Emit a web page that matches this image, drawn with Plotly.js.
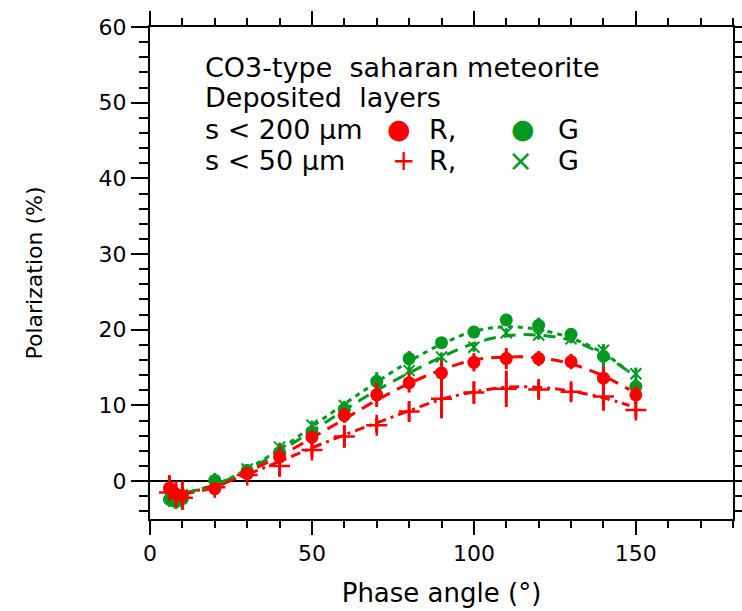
<!DOCTYPE html>
<html>
<head>
<meta charset="utf-8">
<script src="https://cdn.plot.ly/plotly-3.0.1.min.js"></script>
<style>html,body{margin:0;padding:0;background:#fff;}#chart{width:742px;height:611px;}</style>
</head>
<body>
<div id="chart"></div>
<script>
// Phase angles (deg)
const phase = [6, 8, 10, 20, 30, 40, 50, 60, 70, 80, 90, 100, 110, 120, 130, 140, 150];

// s < 200 um, R (red filled circles)
const r200 = [-0.9, -1.7, -1.9, -1.0, 1.0, 3.2, 5.8, 8.7, 11.4, 13.0, 14.3, 15.7, 16.2, 16.2, 15.8, 13.6, 11.4];
const r200Err = [1.7, 1.7, 1.9, 0.8, 0.7, 1.5, 0.9, 1.0, 1.6, 1.3, 1.6, 1.2, 1.4, 1.0, 1.0, 1.5, 1.2];

// s < 200 um, G (green filled circles)
const g200 = [-2.4, -2.7, -2.3, 0.1, 1.4, 3.8, 6.5, 9.5, 13.2, 16.2, 18.3, 19.7, 21.3, 20.6, 19.4, 16.5, 12.5];
const g200Err = [1.0, 1.0, 1.0, 1.0, 0.8, 0.8, 0.8, 0.8, 1.2, 1.0, 0.6, 0.5, 0.8, 1.0, 0.8, 1.5, 1.0];

// s < 50 um, R (red plus)
const r50 = [-1.5, -2.0, -2.2, -0.8, 0.8, 2.0, 4.1, 5.9, 7.4, 9.2, 10.9, 11.7, 12.2, 12.1, 11.8, 11.2, 9.4];
const r50Err = [1.5, 1.5, 1.5, 0.8, 0.6, 1.4, 1.0, 1.5, 1.0, 1.3, 2.6, 1.5, 2.4, 1.2, 1.2, 1.9, 1.0];

// s < 50 um, G (green cross)
const g50 = [-2.0, -2.5, -1.8, -0.3, 1.6, 4.5, 7.4, 10.0, 12.2, 14.6, 16.4, 17.7, 19.6, 19.3, 18.8, 17.3, 14.2];
const g50Err = [0.8, 0.8, 0.8, 0.6, 0.6, 0.6, 0.6, 0.6, 0.6, 0.6, 0.6, 0.6, 0.6, 0.6, 0.6, 0.8, 0.8];

// Fitted curves
const fitX = [10, 20, 30, 40, 50, 60, 70, 80, 90, 100, 110, 120, 130, 140, 148];
const fitR200 = [-1.7, -0.8, 1.2, 3.3, 5.7, 8.2, 10.7, 12.9, 14.7, 16.0, 16.4, 16.3, 15.5, 13.9, 12.1];
const fitG200 = [-1.6, -0.5, 1.6, 4.2, 7.2, 10.2, 13.1, 15.8, 18.1, 19.8, 20.4, 20.0, 18.9, 16.9, 14.4];
const fitG50  = [-1.6, -0.5, 1.4, 3.9, 6.6, 9.4, 12.0, 14.3, 16.4, 18.2, 19.2, 19.3, 18.6, 16.7, 14.4];
const fitR50  = [-1.7, -0.6, 0.9, 2.6, 4.4, 6.1, 7.7, 9.3, 10.8, 11.8, 12.4, 12.4, 11.9, 11.0, 10.0];

const RED = '#ff0000';
const GREEN = '#009a20';

function fitTrace(y, color, dash) {
  return {x: fitX, y: y, mode: 'lines', line: {color: color, width: 3, dash: dash, shape: 'spline'}, hoverinfo: 'skip', showlegend: false};
}
function ptTrace(y, err, color, symbol, size, lw) {
  return {
    x: phase, y: y, mode: 'markers', showlegend: false,
    marker: {color: color, symbol: symbol, size: size, line: {color: color, width: lw}},
    error_y: {type: 'data', array: err, visible: true, color: color, thickness: 3, width: 0}
  };
}

const traces = [
  fitTrace(fitR50, RED, '10px,5px,3px,5px'),
  fitTrace(fitG50, GREEN, '12px,8px'),
  fitTrace(fitR200, RED, '12px,8px'),
  fitTrace(fitG200, GREEN, '5px,5px'),
  ptTrace(g50, g50Err, GREEN, 'x-thin', 11, 2),
  ptTrace(r50, r50Err, RED, 'cross-thin', 15, 2.5),
  ptTrace(g200, g200Err, GREEN, 'circle', 13, 0),
  ptTrace(r200, r200Err, RED, 'circle', 13, 0)
];

const FONT = 'DejaVu Sans, Verdana, sans-serif';
function txt(x, y, s, color, size, anchor) {
  return {x: x, y: y, xref: 'x', yref: 'y', text: s, showarrow: false,
    xanchor: anchor || 'left', yanchor: 'middle', font: {family: FONT, size: size || 27, color: color || '#000'}};
}

const annotations = [
  txt(16.3, 54.7, 'CO3-type  saharan meteorite'),
  txt(16.3, 50.7, 'Deposited  layers'),
  txt(16.3, 46.5, 's < 200 μm'),
  txt(16.3, 42.3, 's < 50 μm'),
  txt(77.0, 46.6, '●', RED, 27, 'center'),
  txt(85.5, 46.5, 'R,'),
  txt(115.2, 46.6, '●', GREEN, 27, 'center'),
  txt(125.5, 46.5, 'G'),
  txt(78.2, 42.4, '+', RED, 28, 'center'),
  txt(85.5, 42.3, 'R,'),
  txt(114.5, 42.4, '×', GREEN, 30, 'center'),
  txt(125.5, 42.3, 'G')
];

const layout = {
  width: 742, height: 611,
  margin: {l: 150, r: 9, t: 27, b: 92, pad: 0},
  paper_bgcolor: '#fff', plot_bgcolor: '#fff',
  font: {family: FONT, size: 22, color: '#000'},
  showlegend: false,
  xaxis: {
    range: [0, 180], tickmode: 'linear', tick0: 0, dtick: 50,
    ticks: 'outside', ticklen: 14, tickwidth: 2, tickcolor: '#000',
    minor: {dtick: 10, tick0: 0, ticks: 'outside', ticklen: 7, tickwidth: 2, tickcolor: '#000'},
    showline: true, linecolor: '#000', linewidth: 2, mirror: 'ticks',
    showgrid: false, zeroline: false,
    tickfont: {family: FONT, size: 22},
    title: {text: 'Phase angle (°)', font: {family: FONT, size: 26}, standoff: 18}
  },
  yaxis: {
    range: [-5, 60], tickmode: 'linear', tick0: 0, dtick: 10,
    ticks: 'outside', ticklen: 17, tickwidth: 2, tickcolor: '#000',
    minor: {dtick: 2, tick0: 0, ticks: 'outside', ticklen: 9, tickwidth: 2, tickcolor: '#000'},
    showline: true, linecolor: '#000', linewidth: 2, mirror: 'ticks',
    showgrid: false, zeroline: true, zerolinecolor: '#000', zerolinewidth: 2,
    tickfont: {family: FONT, size: 22},
    title: {text: 'Polarization (%)', font: {family: FONT, size: 22}, standoff: 50}
  },
  annotations: annotations
};

Plotly.newPlot('chart', traces, layout, {displayModeBar: false, staticPlot: true});
</script>
</body>
</html>
